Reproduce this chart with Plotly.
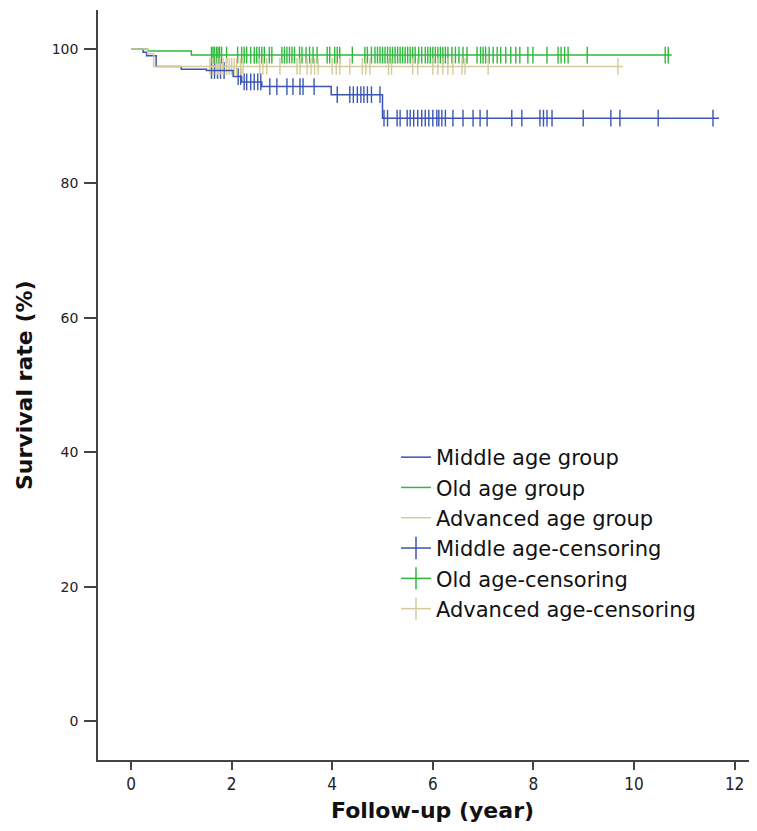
import numpy as np
import plotly.graph_objects as go

# ---------------- data ----------------
group_names = ["Middle age group", "Old age group", "Advanced age group"]
censor_names = ["Middle age-censoring", "Old age-censoring", "Advanced age-censoring"]

# Kaplan-Meier step functions (event times in years, survival %)
middle_times = [0, 0.24, 0.31, 0.5, 1.0, 1.5, 2.03, 2.2, 2.6, 3.98, 5.0]
middle_surv = [100, 99.5, 99.0, 97.4, 97.0, 96.8, 95.9, 95.1, 94.4, 93.2, 89.7]
middle_end = 11.69

old_times = [0, 0.33, 1.2]
old_surv = [100, 99.7, 99.1]
old_end = 10.75

adv_times = [0, 0.33, 0.45]
adv_surv = [100, 99.3, 97.4]
adv_end = 9.78

# censoring times (years)
middle_cens = [1.6, 1.66, 1.72, 1.78, 1.85, 2.13, 2.18, 2.25, 2.3, 2.38, 2.45, 2.52,
               2.58, 2.76, 2.9, 3.1, 3.22, 3.36, 3.42, 3.64, 4.1, 4.35, 4.42, 4.5,
               4.57, 4.63, 4.7, 4.78, 4.95, 5.03, 5.1, 5.29, 5.35, 5.49, 5.55, 5.62,
               5.7, 5.78, 5.85, 5.92, 6.0, 6.08, 6.12, 6.18, 6.25, 6.4, 6.6, 6.8,
               6.94, 7.08, 7.57, 7.77, 8.13, 8.2, 8.27, 8.37, 8.99, 9.54, 9.72,
               10.48, 11.57]
old_cens = [1.6, 1.63, 1.66, 1.7, 1.73, 1.76, 1.8, 1.9, 2.12, 2.2, 2.25, 2.3, 2.38,
            2.45, 2.5, 2.55, 2.6, 2.65, 2.75, 2.8, 3.0, 3.05, 3.1, 3.15, 3.2, 3.25,
            3.35, 3.4, 3.48, 3.55, 3.62, 3.7, 3.9, 3.95, 4.05, 4.1, 4.15, 4.4,
            4.65, 4.7, 4.78, 4.85, 4.9, 4.95, 5.0, 5.05, 5.1, 5.15, 5.2, 5.25, 5.3,
            5.35, 5.4, 5.45, 5.5, 5.55, 5.6, 5.65, 5.72, 5.78, 5.85, 5.9, 5.95,
            6.0, 6.05, 6.1, 6.15, 6.2, 6.25, 6.3, 6.38, 6.45, 6.52, 6.6, 6.68,
            6.88, 6.95, 7.0, 7.05, 7.12, 7.2, 7.28, 7.35, 7.45, 7.55, 7.65, 7.73,
            7.89, 7.99, 8.27, 8.49, 8.55, 8.62, 8.69, 9.07, 10.62, 10.68]
adv_cens = [1.57, 1.62, 1.68, 1.72, 1.77, 1.83, 1.9, 1.95, 2.0, 2.05, 2.1, 2.18,
            2.23, 2.56, 2.62, 2.7, 2.96, 3.3, 3.36, 3.5, 3.58, 3.65, 3.72, 4.0,
            4.08, 4.15, 4.35, 4.6, 4.67, 4.75, 5.12, 5.18, 5.6, 5.7, 6.0, 6.1,
            6.2, 6.3, 6.4, 6.58, 6.64, 7.1, 9.68]

x_ticks = [0, 2, 4, 6, 8, 10, 12]
y_ticks = [0, 20, 40, 60, 80, 100]

colors = ["#3c55b2", "#2fb83d", "#d4ca9a"]

# ---------------- figure ----------------
groups = [
    (middle_times, middle_surv, middle_end, middle_cens),
    (old_times, old_surv, old_end, old_cens),
    (adv_times, adv_surv, adv_end, adv_cens),
]

fig = go.Figure()

def surv_at(times, surv, t):
    idx = np.searchsorted(np.array(times), np.array(t), side="right") - 1
    return list(np.array(surv)[idx])

# censoring marks (drawn first, not in legend)
for (times, surv, end, cens), col in zip(groups, colors):
    fig.add_trace(go.Scatter(
        x=cens, y=surv_at(times, surv, cens), mode="markers",
        marker=dict(symbol="line-ns-open", size=12, color=col,
                    line=dict(color=col, width=1.4)),
        showlegend=False, hoverinfo="skip"))

# survival step curves
for (times, surv, end, cens), col, name in zip(groups, colors, group_names):
    fig.add_trace(go.Scatter(
        x=list(times) + [end], y=list(surv) + [surv[-1]],
        mode="lines", line=dict(color=col, width=1.5, shape="hv"),
        name=name))

# legend entries for censoring
for col, name in zip(colors, censor_names):
    fig.add_trace(go.Scatter(
        x=[None], y=[None], mode="lines+markers", name=name,
        line=dict(color=col, width=1.5),
        marker=dict(symbol="line-ns-open", size=20, color=col,
                    line=dict(color=col, width=1.5))))

# page offset from the default 8px body margin
OFF = 8
PL, PT, PB_PAGE = 98, 10, 760          # plot area in page pixels
W, H = 757 - OFF, 815
L = PL - OFF
T = PT - OFF
B = H - (PB_PAGE - OFF)
PW, PH = W - L, H - T - B

def px_x(page_x):
    return (page_x - PL) / PW

def px_y(page_y):
    return 1 - (page_y - PT) / PH

fig.update_layout(
    width=W, height=H,
    margin=dict(l=L, r=0, t=T, b=B, pad=0),
    paper_bgcolor="white", plot_bgcolor="white",
    showlegend=True,
    legend=dict(x=px_x(396), y=px_y(437),
                xanchor="left", yanchor="top",
                font=dict(family="DejaVu Sans", size=21, color="#111"),
                bgcolor="rgba(0,0,0,0)", tracegroupgap=0, itemwidth=30),
    xaxis=dict(range=[-0.656, 12.445], tickvals=x_ticks,
               ticktext=[str(v) for v in x_ticks],
               showgrid=False, zeroline=False, showline=True,
               linecolor="#444", linewidth=1.5,
               ticks="outside", ticklen=8, tickwidth=1.5, tickcolor="#444",
               tickfont=dict(family="Liberation Sans Narrow, DejaVu Sans Condensed, Roboto Condensed, Roboto, sans-serif",
                             size=17, color="#222")),
    yaxis=dict(range=[-5.8, 105.8], tickvals=y_ticks,
               ticktext=[str(v) for v in y_ticks],
               showgrid=False, zeroline=False, showline=True,
               linecolor="#444", linewidth=1.5,
               ticks="outside", ticklen=12, tickwidth=1.5, tickcolor="#444",
               ticklabelstandoff=3,
               tickfont=dict(family="DejaVu Sans", size=14, color="#222")),
    annotations=[
        dict(text="<b>Follow-up (year)</b>", xref="paper", yref="paper",
             x=px_x(432), y=px_y(810),
             xanchor="center", yanchor="middle", showarrow=False,
             font=dict(family="DejaVu Sans", size=22, color="#111")),
        dict(text="<b>Survival rate (%)</b>", xref="paper", yref="paper",
             x=px_x(24), y=px_y(385), textangle=-90,
             xanchor="center", yanchor="middle", showarrow=False,
             font=dict(family="DejaVu Sans", size=22, color="#111")),
    ],
)

fig.write_html("out.html")
